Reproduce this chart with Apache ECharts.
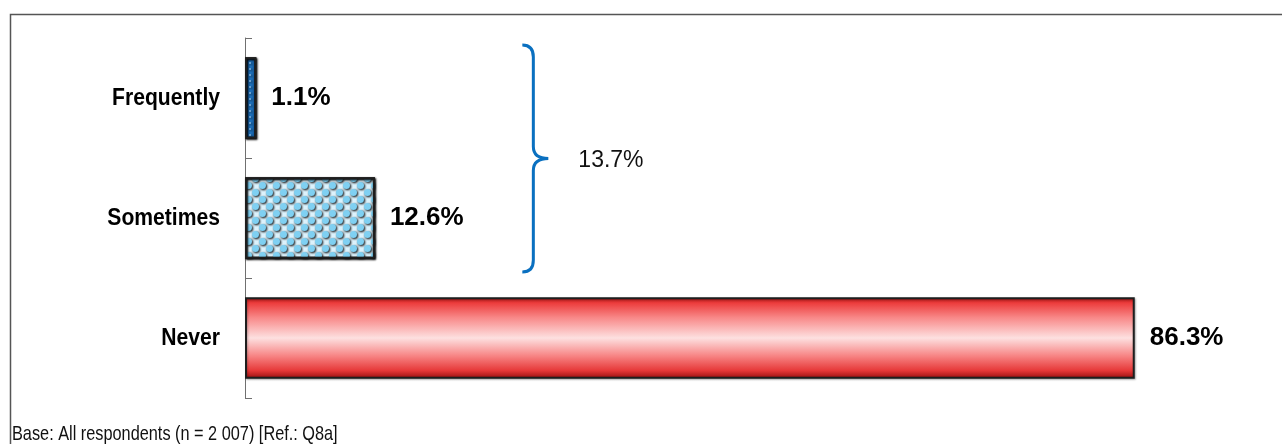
<!DOCTYPE html>
<html>
<head>
<meta charset="utf-8">
<script src="https://cdn.jsdelivr.net/npm/echarts@6/dist/echarts.min.js"></script>
<style>
html,body{margin:0;padding:0;background:#fff;}
#chart{width:1282px;height:444px;}
</style>
</head>
<body>
<div id="chart"></div>
<script>
// ---- data ----
const categories = ['Frequently', 'Sometimes', 'Never'];
const values = [1.1, 12.6, 86.3];
const braceFrom = 0;          // index of first bracketed category
const braceTo = 1;            // index of last bracketed category
const braceTotal = [13.7];
const footnote = 'Base: All respondents (n = 2 007) [Ref.: Q8a]';

// ---- styles ----
const BRACE_X = 26.9;
const sans = '"Liberation Sans", Arial, sans-serif';

const barStyles = [
  {
    color: new echarts.graphic.LinearGradient(0, 0, 1, 0, [
      {offset: 0, color: '#0d4f8f'}, {offset: 0.5, color: '#1f74c0'}, {offset: 1, color: '#0d4f8f'}
    ]),
    decal: {symbol: 'circle', symbolSize: 0.5, dashArrayX: [[4, 4]], dashArrayY: [6, 0], color: 'rgba(160,200,235,0.8)'}
  },
  {
    color: '#dcf2fc',
    decal: {symbol: 'circle', symbolSize: 1, dashArrayX: [[7, 7], [0, 7, 7, 0]], dashArrayY: [7, 0], color: '#7fd0f2'}
  },
  {
    color: new echarts.graphic.LinearGradient(0, 0, 0, 1, [
      {offset: 0, color: '#b01515'},
      {offset: 0.07, color: '#ec3c3c'},
      {offset: 0.25, color: '#f88888'},
      {offset: 0.5, color: '#fde0e0'},
      {offset: 0.72, color: '#f78484'},
      {offset: 0.9, color: '#e63838'},
      {offset: 1, color: '#940e0e'}
    ])
  }
];

const chart = echarts.init(document.getElementById('chart'), null, {renderer: 'canvas'});

const option = {
  animation: false,
  backgroundColor: '#fff',
  grid: {left: 245, right: 6, top: 38, bottom: 46},
  xAxis: {type: 'value', min: 0, max: 100, show: false},
  yAxis: {
    type: 'category',
    data: categories,
    inverse: true,
    axisLine: {show: true, lineStyle: {color: '#707070', width: 1}},
    axisTick: {show: true, inside: true, length: 7, lineStyle: {color: '#707070'}},
    axisLabel: {show: false},
    splitLine: {show: false}
  },
  series: [
    {
      type: 'bar',
      barCategoryGap: '32%',
      data: values.map((v, i) => ({
        value: v,
        itemStyle: Object.assign({
          borderColor: '#1e1e1e', borderWidth: 2,
          shadowColor: 'rgba(0,0,0,0.25)', shadowBlur: 2, shadowOffsetX: 1, shadowOffsetY: 1
        }, barStyles[i])
      })),
      label: {
        show: true, position: 'right', distance: 15,
        formatter: p => p.value.toFixed(1) + '%',
        color: '#000', fontFamily: sans, fontWeight: 'bold', fontSize: 26
      }
    },
    {
      // category labels (narrow bold), anchored to the category axis
      type: 'custom',
      data: categories.map((c, i) => [0, i]),
      encode: {x: 0, y: 1},
      silent: true,
      renderItem: function (params, api) {
        const p = api.coord([0, api.value(1)]);
        return {
          type: 'text', x: p[0] - 25, y: p[1], scaleX: 0.88,
          style: {x: 0, y: 0, text: categories[params.dataIndex], fill: '#000',
                  font: 'bold 24px ' + sans, textAlign: 'right', textVerticalAlign: 'middle'}
        };
      }
    },
    {
      type: 'custom',
      data: [[braceFrom, braceTo, braceTotal[0]]],
      encode: {y: [0, 1], x: 2},
      silent: true,
      renderItem: function (params, api) {
        const a = api.coord([BRACE_X, api.value(0)]);
        const b = api.coord([BRACE_X, api.value(1)]);
        const band = api.size([0, 1])[1];
        const x0 = a[0];
        const y0 = a[1] - band / 2 + 7;
        const y1 = b[1] + band / 2 - 6;
        const ym = (y0 + y1) / 2;
        const xs = x0 + 11, xt = x0 + 26, r = 12;
        const d = 'M' + x0 + ' ' + y0 +
          ' Q' + xs + ' ' + y0 + ' ' + xs + ' ' + (y0 + r) +
          ' L' + xs + ' ' + (ym - r) +
          ' Q' + xs + ' ' + ym + ' ' + xt + ' ' + ym +
          ' Q' + xs + ' ' + ym + ' ' + xs + ' ' + (ym + r) +
          ' L' + xs + ' ' + (y1 - r) +
          ' Q' + xs + ' ' + y1 + ' ' + x0 + ' ' + y1;
        return {
          type: 'group',
          children: [
            {type: 'path', shape: {pathData: d}, style: {fill: null, stroke: '#0a70c0', lineWidth: 3}},
            {type: 'text', style: {
              x: xt + 30, y: ym + 2, text: api.value(2).toFixed(1) + '%',
              fill: '#111', font: '23px ' + sans, textAlign: 'left', textVerticalAlign: 'middle'
            }}
          ]
        };
      }
    }
  ],
  graphic: [
    {type: 'rect', left: 8, top: 12, silent: true,
     shape: {x: 0, y: 0, width: 1300, height: 500},
     style: {fill: null, stroke: '#555', lineWidth: 1.5}},
    {type: 'text', x: 12, y: 434, scaleX: 0.776, silent: true,
     style: {x: 0, y: 0, text: footnote, fill: '#111', font: '21px ' + sans,
             textAlign: 'left', textVerticalAlign: 'middle'}}
  ]
};
chart.setOption(option);
</script>
</body>
</html>
